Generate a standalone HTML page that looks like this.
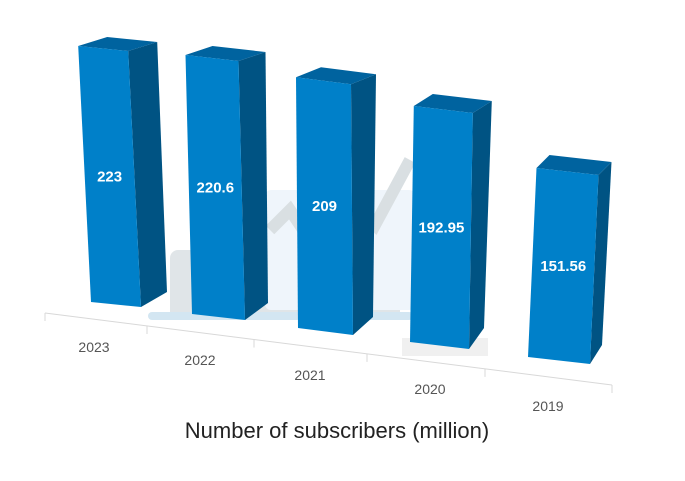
<!DOCTYPE html>
<html><head><meta charset="utf-8"><style>
html,body{margin:0;padding:0;background:#fff;}
svg{display:block;font-family:"Liberation Sans",sans-serif;}
</style></head><body>
<svg id="chart" width="685" height="481" viewBox="0 0 685 481">
  <g opacity="0.9">
    <rect x="170" y="250" width="230" height="70" rx="8" fill="#dde3e6"/>
    <rect x="265" y="190" width="150" height="120" rx="6" fill="#eef5fb"/>
    <polyline points="270,230 290,210 300,225 330,180 375,225 410,160" fill="none" stroke="#d5dcdf" stroke-width="12"/>
    <rect x="148" y="312" width="265" height="8" rx="4" fill="#cfe4f1"/>
    <rect x="402" y="338" width="86" height="18" fill="#efefef"/>
  </g>
  <g id="axis">
    <line x1="45" y1="313" x2="612" y2="385" stroke="#d8d8d8" stroke-width="1"/>
  </g>
  <g id="bars"></g>
  <text x="337" y="438" text-anchor="middle" font-size="22" fill="#222">Number of subscribers (million)</text>
</svg>
<script>
const categories = ["2023","2022","2021","2020","2019"];
const values = [223, 220.6, 209, 192.95, 151.56];
const valueLabels = ["223","220.6","209","192.95","151.56"];

// perspective layout per category slot (geometry, not data)
const slots = [
  {bl:[91,302], br:[141,307], k:1.148, lean:-0.05, dT:[29,-9], dB:[26,-15]},
  {bl:[192,314], br:[245,320], k:1.174, lean:-0.025, dT:[27,-9], dB:[23,-17]},
  {bl:[298,328], br:[353,335], k:1.20, lean:-0.008, dT:[25,-10], dB:[20,-18]},
  {bl:[410,342], br:[469,349], k:1.223, lean:0.016, dT:[19,-12], dB:[15,-21]},
  {bl:[528,357], br:[590,364], k:1.247, lean:0.045, dT:[13,-13], dB:[12,-19]}
];
const ticksX = [45,147,254,367,485,612];
const labelPos = [[94,352],[200,365],[310,380],[430,394],[548,411]];
const NS = "http://www.w3.org/2000/svg";
function yOf(slot, base, v){ return base - v*slot.k; }
function xOf(slot, base, v){ return base + v*slot.k*slot.lean; }
function pts(a){ return a.map(p=>p[0].toFixed(1)+","+p[1].toFixed(1)).join(" "); }

const axis = document.getElementById("axis");
ticksX.forEach((x,i)=>{
  const y = 313 + (x-45)*(72/567);
  const t = document.createElementNS(NS,"line");
  t.setAttribute("x1",x); t.setAttribute("x2",x);
  t.setAttribute("y1",y); t.setAttribute("y2",y+8);
  t.setAttribute("stroke","#d8d8d8");
  
  
  axis.appendChild(t);
});
categories.forEach((c,i)=>{
  const t = document.createElementNS(NS,"text");
  t.setAttribute("x",labelPos[i][0]); t.setAttribute("y",labelPos[i][1]);
  t.setAttribute("text-anchor","middle"); t.setAttribute("font-size","14");
  t.setAttribute("fill","#555");
  t.textContent = c;
  
  
  axis.appendChild(t);
});

const g = document.getElementById("bars");
values.forEach((v,i)=>{
  const s = slots[i];
  const BL = s.bl, BR = s.br;
  const TL = [xOf(s,BL[0],v), yOf(s,BL[1],v)];
  const TR = [xOf(s,BR[0],v), yOf(s,BR[1],v)];
  const TLb = [TL[0]+s.dT[0], TL[1]+s.dT[1]];
  const TRb = [TR[0]+s.dT[0], TR[1]+s.dT[1]];
  const BRb = [BR[0]+s.dB[0], BR[1]+s.dB[1]];
  const grp = document.createElementNS(NS,"g");
  
  
  const side = document.createElementNS(NS,"polygon");
  side.setAttribute("points", pts([TR,TRb,BRb,BR]));
  side.setAttribute("fill","#005383");
  
  
  const top = document.createElementNS(NS,"polygon");
  top.setAttribute("points", pts([TL,TLb,TRb,TR]));
  top.setAttribute("fill","#00639f");
  
  
  const front = document.createElementNS(NS,"polygon");
  front.setAttribute("points", pts([TL,TR,BR,BL]));
  front.setAttribute("fill","#0080c9");
  
  
  grp.appendChild(side); grp.appendChild(top); grp.appendChild(front);
  const lbl = document.createElementNS(NS,"text");
  const cx = (TL[0]+TR[0]+BL[0]+BR[0])/4;
  const cy = (TL[1]+TR[1]+BL[1]+BR[1])/4;
  lbl.setAttribute("x", cx.toFixed(1));
  lbl.setAttribute("y", (cy+5).toFixed(1));
  lbl.setAttribute("text-anchor","middle");
  lbl.setAttribute("font-size","15");
  lbl.setAttribute("font-weight","bold");
  lbl.setAttribute("fill","#fff");
  lbl.textContent = valueLabels[i];
  
  
  grp.appendChild(lbl);
  g.appendChild(grp);
});
</script>
</body></html>
